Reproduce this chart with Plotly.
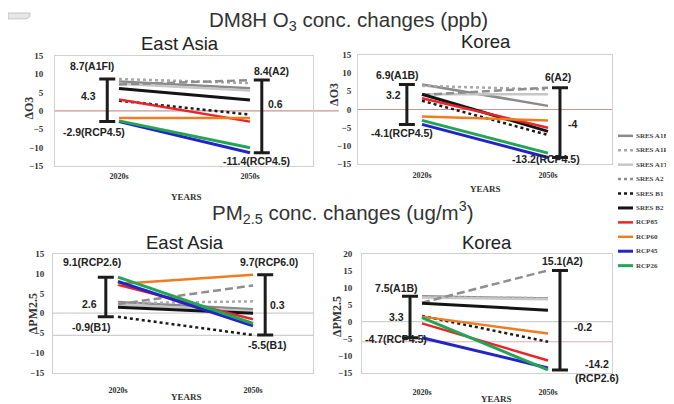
import plotly.graph_objects as go

# page offset of the figure in the browser (body margin)
OX, OY = 8, 8
W, H = 674 - OX, 404 - OY

# ---------------- data ----------------
periods = ["2020s", "2050s"]
series = ["SRES A1B", "SRES A1FI", "SRES A1T", "SRES A2", "SRES B1",
          "SRES B2", "RCP85", "RCP60", "RCP45", "RCP26"]
short_names = ["A1B", "A1FI", "A1T", "A2", "B1", "B2",
               "RCP8.5", "RCP6.0", "RCP4.5", "RCP2.6"]

# DM8H O3 (ppb), East Asia
o3_ea_2020s = [8.0, 8.7, 7.4, 7.2, 2.8, 6.1, 3.1, -1.9, -2.9, -2.7]
o3_ea_2050s = [6.2, 7.6, 5.6, 8.4, -1.0, 3.0, -2.9, -1.9, -11.4, -10.0]
o3_ea_mid = [4.3, 0.6]
# DM8H O3 (ppb), Korea
o3_kr_2020s = [6.9, 6.5, 4.2, 4.0, 2.4, 4.2, 3.1, -1.9, -4.1, -3.0]
o3_kr_2050s = [1.0, 5.5, 4.2, 6.0, -7.0, -6.0, -5.0, -3.0, -13.2, -12.0]
o3_kr_mid = [3.2, -4]
# PM2.5 (ug/m3), East Asia
pm_ea_2020s = [2.8, 2.5, 2.2, 2.3, -0.9, 1.5, 7.2, 7.4, 8.0, 9.1]
pm_ea_2050s = [1.0, 3.0, 0.5, 7.0, -5.5, 0.0, -1.5, 9.7, -3.2, -2.6]
pm_ea_mid = [2.6, 0.3]
# PM2.5 (ug/m3), Korea
pm_kr_2020s = [7.5, 7.3, 7.1, 5.6, 1.7, 5.4, -0.5, 1.5, -4.7, 1.2]
pm_kr_2050s = [6.8, 6.9, 6.6, 15.1, -5.9, 3.4, -11.4, -3.5, -13.6, -14.2]
pm_kr_mid = [3.3, -0.2]

y_ticks_o3 = [-15, -10, -5, 0, 5, 10, 15]
y_ticks_pm_ea = [-15, -10, -5, 0, 5, 10, 15]
y_ticks_pm_kr = [-15, -10, -5, 0, 5, 10, 15, 20]

# ---------------- styles ----------------
styles = {
    "SRES A1B": dict(color="#8a8a8a", width=2.5, dash="solid"),
    "SRES A1FI": dict(color="#a8a8a8", width=2.5, dash="dot"),
    "SRES A1T": dict(color="#c6c6c6", width=2.5, dash="solid"),
    "SRES A2": dict(color="#8e8e8e", width=2.5, dash="8px,4px"),
    "SRES B1": dict(color="#1a1a1a", width=2.5, dash="dot"),
    "SRES B2": dict(color="#141414", width=3, dash="solid"),
    "RCP85": dict(color="#e8262a", width=2.5, dash="solid"),
    "RCP60": dict(color="#f07c22", width=2.5, dash="solid"),
    "RCP45": dict(color="#2323c8", width=3, dash="solid"),
    "RCP26": dict(color="#22a556", width=3, dash="solid"),
}

serif = "Liberation Serif"
sans = "Liberation Sans"


def fx(px):
    return (px - OX) / W


def fy(py):
    return 1 - (py - OY) / H


def label(text, px, py, font, xanchor="center", angle=0):
    return dict(text=text, x=fx(px), y=fy(py), xref="paper", yref="paper",
                showarrow=False, xanchor=xanchor, yanchor="middle", textangle=angle,
                font=font)


panels = [
    dict(v0=o3_ea_2020s, v1=o3_ea_2050s, mid=o3_ea_mid, title="East Asia", ylabel="ΔO3",
         ticks=y_ticks_o3, yr=[-15, 15], box=(55, 313, 52, 165), xr=[-0.489, 1.481],
         errx=[-0.09, 1.09], title_pos=(180, 39), ylab_pos=(29, 105), years_pos=(186, 197),
         xstand=2, ystand=9,
         lab=[(92, 62), (88, 93), (94, 130), (271, 68), (275, 101), (256, 160)],
         refs=[(0, "#c99494", 1.1)]),
    dict(v0=o3_kr_2020s, v1=o3_kr_2050s, mid=o3_kr_mid, title="Korea", ylabel="ΔO3",
         ticks=y_ticks_o3, yr=[-15, 15], box=(358, 612, 51, 163), xr=[-0.508, 1.508],
         errx=[-0.12, 1.095], title_pos=(486, 37), ylab_pos=(334, 92), years_pos=(485, 189),
         xstand=3, ystand=4,
         lab=[(397, 72), (393, 92), (402, 131), (558, 74), (572, 122), (546, 158)],
         refs=[(0, "#c99494", 1.0)]),
    dict(v0=pm_ea_2020s, v1=pm_ea_2050s, mid=pm_ea_mid, title="East Asia", ylabel="ΔPM2.5",
         ticks=y_ticks_pm_ea, yr=[-15, 15], box=(53, 313, 255, 377), xr=[-0.481, 1.444],
         errx=[-0.09, 1.09], title_pos=(185, 243), ylab_pos=(33, 317), years_pos=(186, 402),
         xstand=10, ystand=6,
         lab=[(92, 263), (89, 307), (92, 330), (269, 263), (277, 308), (267, 349)],
         refs=[(0, "#cfcfcf", 1.0), (-5.6, "#cfcfcf", 1.0)]),
    dict(v0=pm_kr_2020s, v1=pm_kr_2050s, mid=pm_kr_mid, title="Korea", ylabel="ΔPM2.5",
         ticks=y_ticks_pm_kr, yr=[-15, 20], box=(362, 612, 255, 377), xr=[-0.476, 1.508],
         errx=[-0.095, 1.095], title_pos=(487, 243), ylab_pos=(337, 320), years_pos=(496, 404),
         xstand=12, ystand=7,
         lab=[(396, 290), (396, 320), (396, 342), (562, 262), (583, 330), (597, 375)],
         refs=[(0, "#cfcfcf", 1.0), (-5.9, "#dbb1b1", 1.0)]),
]

fig = go.Figure()
annotations = []
shapes = []
layout_axes = {}

for i, p in enumerate(panels):
    xa = "x" if i == 0 else f"x{i + 1}"
    ya = "y" if i == 0 else f"y{i + 1}"
    xl, xr_, yt, yb = p["box"]
    tickfont_x = dict(family=serif, size=8, color="#333", weight="bold")
    tickfont_y = dict(family=serif, size=9, color="#333", weight="bold")
    layout_axes["xaxis" if i == 0 else f"xaxis{i + 1}"] = dict(
        domain=[fx(xl), fx(xr_)], range=p["xr"], tickvals=list(range(len(periods))),
        ticktext=periods, showgrid=False, zeroline=False, showline=True, mirror=True,
        linecolor="#d0d0d0", linewidth=1, tickfont=tickfont_x, anchor=ya,
        ticklabelstandoff=p["xstand"], fixedrange=True)
    layout_axes["yaxis" if i == 0 else f"yaxis{i + 1}"] = dict(
        domain=[fy(yb), fy(yt)], range=p["yr"], tickvals=p["ticks"], showgrid=False,
        zeroline=False, showline=True, mirror=True, linecolor="#d0d0d0", linewidth=1,
        tickfont=tickfont_y, anchor=xa, ticklabelstandoff=p["ystand"], fixedrange=True)

    # reference lines
    for val, col, ext in p["refs"]:
        shapes.append(dict(type="line", xref=f"{xa} domain", x0=0, x1=ext, yref=ya,
                           y0=val, y1=val, line=dict(color=col, width=1.2), layer="below"))

    # scenario lines
    for j, s in enumerate(series):
        fig.add_trace(go.Scatter(
            x=list(range(len(periods))), y=[p["v0"][j], p["v1"][j]], mode="lines",
            line=styles[s], name=s, showlegend=False, xaxis=xa, yaxis=ya,
            hoverinfo="skip"))

    # range bars (min..max of the scenarios in each period)
    vals = [p["v0"], p["v1"]]
    mx = [max(v) for v in vals]
    mn = [min(v) for v in vals]
    fig.add_trace(go.Scatter(
        x=p["errx"], y=[(a + b) / 2 for a, b in zip(mx, mn)], mode="markers",
        marker=dict(size=1, opacity=0), showlegend=False, xaxis=xa, yaxis=ya,
        hoverinfo="skip",
        error_y=dict(type="data", symmetric=True,
                     array=[(a - b) / 2 for a, b in zip(mx, mn)],
                     color="#1c1c1c", thickness=3, width=8)))

    # range labels
    texts = []
    for k in range(2):
        v = vals[k]
        imax = v.index(mx[k])
        imin = v.index(mn[k])
        tmax = f"{mx[k]:g}({short_names[imax]})"
        tmin = f"{mn[k]:g}({short_names[imin]})"
        if i == 3 and k == 1:
            tmin = f"{mn[k]:g}<br>({short_names[imin]})"
        texts.append([tmax, f"{p['mid'][k]:g}", tmin])
    order = texts[0] + texts[1]
    lab_font = dict(family=sans, size=10.5, color="#222", weight="bold")
    for t, (px, py) in zip(order, p["lab"]):
        annotations.append(label(t, px, py, lab_font))

    annotations.append(label(p["title"], *p["title_pos"],
                             dict(family=sans, size=18.5, color="#222")))
    annotations.append(label(p["ylabel"], *p["ylab_pos"],
                             dict(family=serif, size=12, color="#333", weight="bold"), angle=-90))
    annotations.append(label("YEARS", *p["years_pos"],
                             dict(family=serif, size=9, color="#333", weight="bold")))

# figure titles
annotations.append(label("DM8H O<sub>3</sub> conc. changes (ppb)", 349, 16,
                         dict(family=sans, size=20.5, color="#333")))
annotations.append(label("PM<sub>2.5</sub> conc. changes (ug/m<sup>3</sup>)", 343, 213,
                         dict(family=sans, size=20.5, color="#333")))

# legend (drawn from the series list and styles)
leg_x0, leg_x1, leg_y0, leg_dy = 618, 633, 134, 14.8
for j, s in enumerate(series):
    yy = fy(leg_y0 + j * leg_dy)
    st = styles[s]
    dash = st["dash"]
    if dash not in ("solid", "dot"):
        dash = "3px,3px"
    shapes.append(dict(type="line", xref="paper", yref="paper", x0=fx(leg_x0), x1=fx(leg_x1),
                       y0=yy, y1=yy, line=dict(color=st["color"], width=st["width"], dash=dash)))
    annotations.append(label(s, leg_x1 + 1, leg_y0 + j * leg_dy,
                             dict(family=serif, size=7, color="#444", weight="bold"),
                             xanchor="left"))

# small UI tab in the top-left corner
shapes.append(dict(type="path", xref="paper", yref="paper",
                   path=f"M 0 1 L {fx(30)} 1 L {fx(30)} {fy(9)} Q {fx(30)} {fy(14)} {fx(25)} {fy(14)} L 0 {fy(14)} Z",
                   fillcolor="#e6e6e6", line=dict(color="#c4c4c4", width=1)))

fig.update_layout(
    width=W, height=H, margin=dict(l=0, r=0, t=0, b=0),
    paper_bgcolor="white", plot_bgcolor="white", showlegend=False,
    annotations=annotations, shapes=shapes, **layout_axes)

fig.write_html("out.html")
